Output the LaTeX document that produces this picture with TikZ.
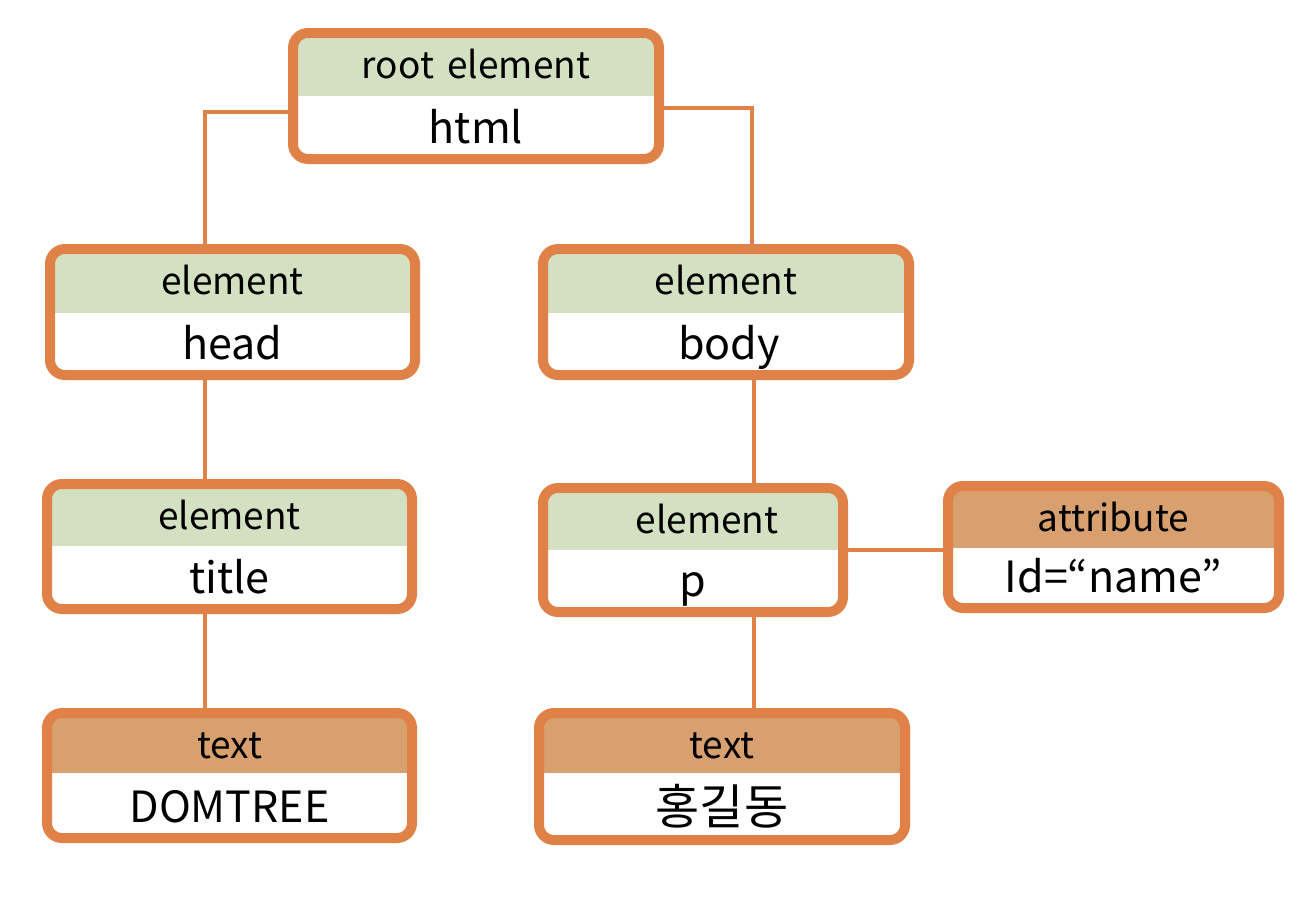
\documentclass[tikz,border=0pt]{standalone}
\usepackage{fontspec}
\setmainfont{Noto Sans CJK KR}
\usetikzlibrary{backgrounds}
\definecolor{bord}{RGB}{224,130,71}
\definecolor{hgreen}{RGB}{211,224,193}
\definecolor{hbrown}{RGB}{216,160,110}
\tikzset{
  box/.style={draw=bord, line width=10pt, rounded corners=15pt, fill=white, outer sep=0pt, inner sep=0pt},
  link/.style={draw=bord, line width=3.5pt},
  hd/.style={font=\fontsize{37}{40}\selectfont, anchor=base, inner sep=0pt},
  bd/.style={font=\fontsize{43}{48}\selectfont, anchor=base, inner sep=0pt},
}
% name, cx, cy, w, h, header height, header colour, header text, body text
\newcommand\dombox[9]{%
  \node[box, minimum width=#4pt, minimum height=#5pt,
    path picture={\fill[#7, sharp corners] (path picture bounding box.north west) rectangle ([yshift=-#6pt]path picture bounding box.north east);}]
    (#1) at (#2,#3) {};
  \node[hd] (#1h) at ([yshift=-45pt]#1.north) {#8};
  \node[bd] (#1b) at ([yshift=16pt]#1.south) {#9};
}
\begin{document}
\begin{tikzpicture}[x=1pt,y=-1pt]
\useasboundingbox (0,0) rectangle (1308,898);
\dombox{root}{476}{96}{366}{126}{63}{hgreen}{root\hspace{5pt} element}{html}
\dombox{head}{232.5}{312}{365}{126}{64}{hgreen}{element}{head}
\dombox{body}{726}{312}{366}{126}{64}{hgreen}{element}{\hspace*{6pt}body}
\dombox{title}{229.5}{546.5}{365}{125}{62}{hgreen}{element}{title}
\dombox{p}{693}{550}{300}{124}{62}{hgreen}{\hspace*{28pt}element}{p}
\dombox{attr}{1113.5}{547}{331}{122}{62}{hbrown}{attribute}{Id=“name”}
\dombox{textl}{229.5}{775.5}{365}{125}{60}{hbrown}{text}{DOMTREE}
\dombox{textr}{722}{776.5}{366}{127}{60}{hbrown}{text}{\fontsize{48}{52}\selectfont 홍길동}
\begin{scope}[on background layer]
  \draw[link] ([yshift=-16pt]root.west) -| ([xshift=-27.5pt]head.north);
  \draw[link] ([yshift=-12pt]root.east) -| ([xshift=26pt]body.north);
  \draw[link] ([xshift=-27.5pt]head.south) -- ([xshift=-27.5pt]head.south |- title.north);
  \draw[link] ([xshift=-24.5pt]title.south) -- ([xshift=-24.5pt]title.south |- textl.north);
  \draw[link] ([xshift=28pt]body.south) -- ([xshift=28pt]body.south |- p.north);
  \draw[link] ([xshift=61pt]p.south) -- ([xshift=61pt]p.south |- textr.north);
  \draw[link] (p.east) -- (p.east -| attr.west);
\end{scope}
\end{tikzpicture}
\end{document}
